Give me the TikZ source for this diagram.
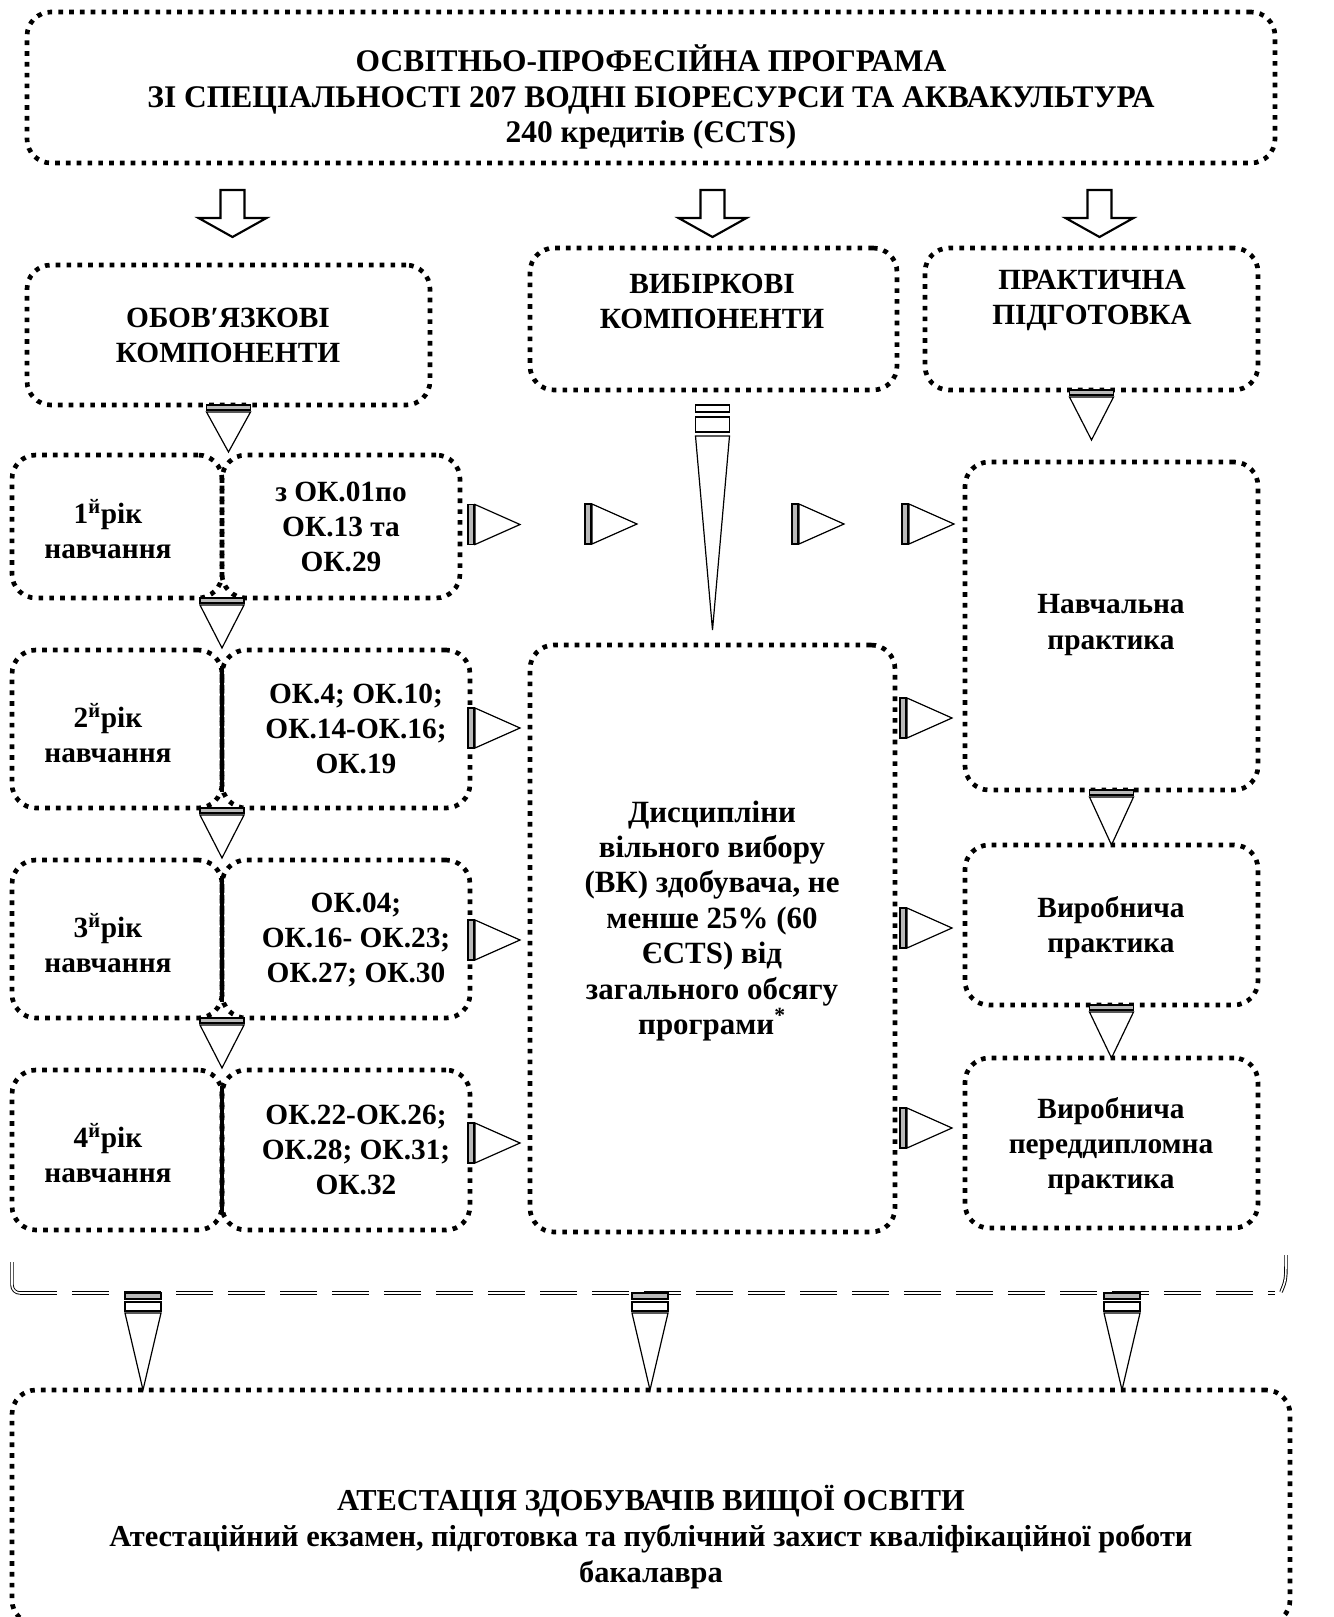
\documentclass[tikz,border=0pt]{standalone}
\usepackage{fontspec}
\setmainfont{Liberation Serif}
\usetikzlibrary{calc}
\tikzset{
  box/.style={draw, line width=3.5pt, dash pattern=on 3.5pt off 4.6pt, rounded corners=18pt, inner sep=0pt, outer sep=0pt},
  txt/.style={font=\bfseries\fontsize{22}{26.3}\selectfont, align=center, inner sep=0pt},
  bigtxt/.style={txt, font=\bfseries\fontsize{23.6}{26.3}\selectfont},
  midtxt/.style={txt, font=\bfseries\fontsize{23.2}{26.6}\selectfont},
  bottxt/.style={txt, font=\bfseries\fontsize{22.8}{27}\selectfont},
  ln/.style={line width=0.9pt, line join=miter},
  dbl/.style={double, double distance=1.2pt, line width=0.7pt},
  pics/blockdown/.style={code={\draw[line width=1.6pt, line join=miter] (-12,0) -- (12,0) -- (12,28) -- (34,28) -- (0,47) -- (-34,28) -- (-12,28) -- cycle;}},
  pics/wdown/.style={code={
     \draw[ln, fill=gray!55] (-22,0) rectangle (22,5);
     \draw[ln] (-22,7) -- (22,7) -- (0,#1) -- cycle;}},
  pics/wright/.style={code={
     \draw[ln, fill=gray!55] (0,-20) rectangle (6,20);
     \draw[ln] (7,-20) -- (7,20) -- (52,0) -- cycle;}},
  pics/longfunnel/.style={code={
     \draw[ln] (-17,0) rectangle (17,7);
     \draw[ln] (-17,12) rectangle (17,27);
     \draw[ln] (-17,31) -- (17,31) -- (0,225) -- cycle;}},
  pics/botfunnel/.style={code={
     \draw[ln, fill=gray!55] (-18,0) rectangle (18,6);
     \draw[ln] (-18,9) rectangle (18,18);
     \draw[ln] (-18,20) -- (18,20) -- (0,97) -- cycle;}},
}
\newcommand\mkbox[5]{\node[box, minimum width={(#4-#2)*0.75pt}, minimum height={(#5-#3)*0.75pt}] (#1) at ({(#2+#4)/2},{(#3+#5)/2}) {};}
\begin{document}
\begin{tikzpicture}[x=0.75pt, y=-0.75pt]
\useasboundingbox (0,0) rectangle (1334,1617);
\clip (0,0) rectangle (1334,1617);
% top
\mkbox{top}{27}{12}{1275}{163}
\node[bigtxt] (toptext) at (651,97) {ОСВІТНЬО-ПРОФЕСІЙНА ПРОГРАМА\\ЗІ СПЕЦІАЛЬНОСТІ 207 ВОДНІ БІОРЕСУРСИ ТА АКВАКУЛЬТУРА\\240 кредитів (ЄCTS)};
% row 2
\mkbox{obov}{27}{265}{430}{405}
\node[txt] (obovt) at (228,335) {ОБОВ′ЯЗКОВІ\\КОМПОНЕНТИ};
\mkbox{vybir}{530}{248}{897}{390}
\node[txt] (vybirt) at (712,301) {ВИБІРКОВІ\\КОМПОНЕНТИ};
\mkbox{prakt}{925}{248}{1258}{390}
\node[txt] (praktt) at (1092,300) {ПРАКТИЧНА\\ПІДГОТОВКА};
\pic at ($(obov.north |- top.south)+(4,27)$) {blockdown};
\pic at ($(vybir.north |- top.south)+(-1,27)$) {blockdown};
\pic at ($(prakt.north |- top.south)+(8,27)$) {blockdown};
% years
\mkbox{y1l}{12}{455}{222}{598}
\mkbox{y1r}{222}{455}{460}{598}
\node[txt] (y1lt) at (108,529) {1\textsuperscript{й}рік\\навчання};
\node[txt] (y1rt) at (341,527) {з ОК.01по\\ОК.13 та\\ОК.29};
\mkbox{y2l}{12}{650}{222}{808}
\mkbox{y2r}{222}{650}{470}{808}
\node[txt] (y2lt) at (108,733) {2\textsuperscript{й}рік\\навчання};
\node[txt] (y2rt) at (356,729) {ОК.4; ОК.10;\\ОК.14-ОК.16;\\ОК.19};
\mkbox{y3l}{12}{860}{222}{1018}
\mkbox{y3r}{222}{860}{470}{1018}
\node[txt] (y3lt) at (108,943) {3\textsuperscript{й}рік\\навчання};
\node[txt] (y3rt) at (356,940) {ОК.04;\\ОК.16- ОК.23;\\ОК.27; ОК.30};
\mkbox{y4l}{12}{1070}{222}{1230}
\mkbox{y4r}{222}{1070}{470}{1230}
\node[txt] (y4lt) at (108,1153) {4\textsuperscript{й}рік\\навчання};
\node[txt] (y4rt) at (356,1150) {ОК.22-ОК.26;\\ОК.28; ОК.31;\\ОК.32};
\foreach \y in {y2,y3,y4}{
  \draw[line width=2.6pt] ($(\y l.north east)+(0,16)$) -- ($(\y l.south east)+(0,-16)$);
}
% middle
\mkbox{mid}{530}{645}{895}{1232}
\node[midtxt] (midt) at (712,921) {Дисципліни\\вільного вибору\\(ВК) здобувача, не\\менше 25\% (60\\ЄCTS) від\\загального обсягу\\програми\textsuperscript{*}};
% right column
\mkbox{nav}{965}{462}{1258}{790}
\node[txt] (navt) at (1111,625) {Навчальна\\практика};
\mkbox{vyr}{965}{845}{1258}{1005}
\node[txt] (vyrt) at (1111,928) {Виробнича\\практика};
\mkbox{per}{965}{1058}{1258}{1228}
\node[txt] (pert) at (1111,1146) {Виробнича\\переддипломна\\практика};
% down wedges
\pic at (obov.south) {wdown=47};
\pic at (y1l.south east) {wdown=50};
\pic at (y2l.south east) {wdown=50};
\pic at (y3l.south east) {wdown=50};
\pic at (prakt.south) {wdown=50};
\pic at (nav.south) {wdown=55};
\pic at (vyr.south) {wdown=53};
\pic at ($(vybir.south)+(-1,15)$) {longfunnel};
% right wedges
\pic at ($(y1r.east)+(8,-2)$) {wright};
\pic at (585,524) {wright};
\pic at (792,524) {wright};
\pic at (902,524) {wright};
\pic at ($(y2r.east)+(-2,-1)$) {wright};
\pic at ($(y3r.east)+(-2,1)$) {wright};
\pic at ($(y4r.east)+(-2,-7)$) {wright};
\pic at (900,718) {wright};
\pic at (900,928) {wright};
\pic at (900,1128) {wright};
% bracket
\coordinate (bl) at (12,1262);
\coordinate (br) at (1286,1255);
\draw[dbl] (bl) -- (12,1285) to[out=-90,in=180] (20,1293);
\draw[dbl, dash pattern=on 28pt off 11pt] (20,1293) -- (1275,1293);
\draw[dbl] (1281,1292) .. controls (1286,1280) .. (br);
% bottom funnels
\pic at (143,1293) {botfunnel};
\pic at (650,1293) {botfunnel};
\pic at (1122,1293) {botfunnel};
% bottom box
\mkbox{att}{12}{1390}{1290}{1624}
\node[bottxt] (attt) at (651,1537) {АТЕСТАЦІЯ ЗДОБУВАЧІВ ВИЩОЇ ОСВІТИ\\Атестаційний екзамен, підготовка та публічний захист кваліфікаційної роботи\\бакалавра};
\end{tikzpicture}
\end{document}
